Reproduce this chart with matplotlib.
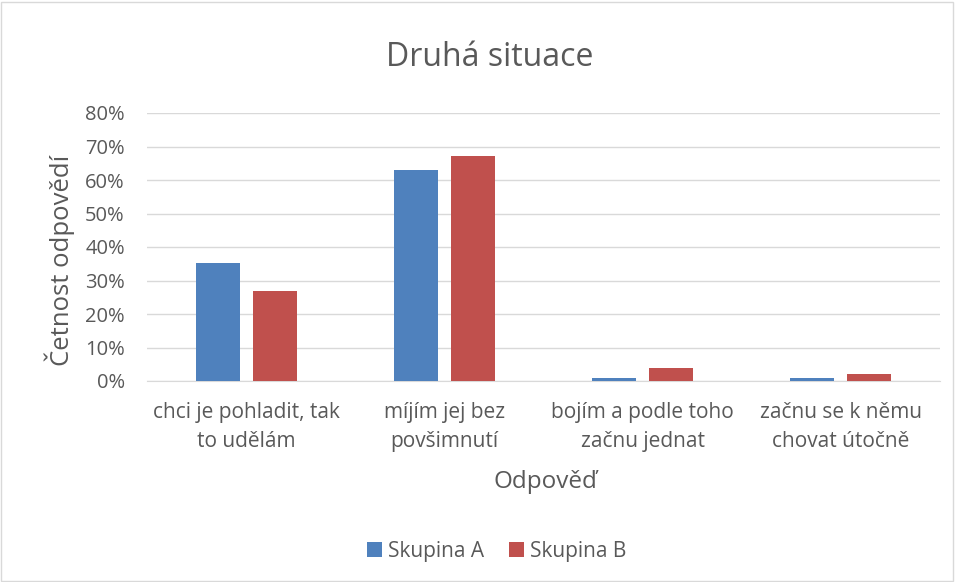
import matplotlib
matplotlib.use("Agg")
import matplotlib.pyplot as plt
import numpy as np
from matplotlib.ticker import FuncFormatter, MultipleLocator

categories = ["chci je pohladit, tak\nto udělám", "míjím jej bez\npovšimnutí",
              "bojím a podle toho\nzačnu jednat", "začnu se k němu\nchovat útočně"]
skupina_a = [35.3, 63.0, 0.8, 0.8]
skupina_b = [27.0, 67.2, 3.8, 2.0]
series_names = ["Skupina A", "Skupina B"]

plt.rcParams['font.family'] = ['Open Sans', 'DejaVu Sans']
txt = "#595959"

fig = plt.figure(figsize=(9.55, 5.82), dpi=100)
fig.patches.append(plt.Rectangle((0.001, 0.002), 0.997, 0.995, transform=fig.transFigure,
                                 fill=False, edgecolor="#d9d9d9", linewidth=1))
ax = fig.add_axes([147/955, 1-381/582, (940-147)/955, (381-113)/582])

x = np.arange(len(categories))
w = 0.222
off = 0.144
ax.bar(x - off, skupina_a, w, color="#4f81bd", label=series_names[0], zorder=3)
ax.bar(x + off, skupina_b, w, color="#c0504d", label=series_names[1], zorder=3)

ax.set_xlim(-0.5, 3.5)
ax.set_ylim(0, 80)
ax.yaxis.set_major_locator(MultipleLocator(10))
ax.yaxis.set_major_formatter(FuncFormatter(lambda v, p: f"{v:.0f}%"))
ax.grid(axis="y", color="#d9d9d9", linewidth=1, zorder=0)
for s in ["top", "right", "left"]:
    ax.spines[s].set_visible(False)
ax.spines["bottom"].set_color("#d9d9d9")
ax.tick_params(axis="both", length=0, labelsize=14.5, colors=txt)
ax.tick_params(axis="x", labelsize=15)
ax.tick_params(axis="y", pad=16)
ax.tick_params(axis="x", pad=15)
ax.set_xticks(x)
ax.set_xticklabels(categories, linespacing=1.5)

fig.text(60/955, 1-260/582, "Četnost odpovědí", rotation=90, ha="center", va="center",
         fontsize=18.5, color=txt)
fig.text(545/955, 1-482/582, "Odpověď", ha="center", va="center", fontsize=17.5, color=txt)
fig.text(490/955, 1-58/582, "Druhá situace", ha="center", va="center", fontsize=23, color=txt)

fig.legend(loc="center", bbox_to_anchor=(497/955, 1-551/582), ncol=2, frameon=False,
           fontsize=15, labelcolor=txt, handlelength=0.7, handleheight=0.7,
           handletextpad=0.3, columnspacing=1.2)

fig.savefig("out.png", dpi=100)
